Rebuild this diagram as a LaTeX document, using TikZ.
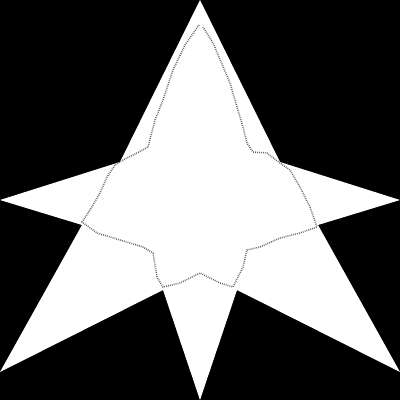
\documentclass[tikz,border=0pt]{standalone}
\usepackage{tikz}

\begin{document}
\begin{tikzpicture}[x={(0.025cm,0)}, y={(0,-0.025cm)}]

      \tikzstyle{StarFill} = [
      fill=white,
      draw=none
      ]

      \tikzstyle{SeamLine} = [
      draw=black!60,
      line width=1.1pt,
      dash pattern=on 0.6pt off 0.8pt
      ]

      % background
      \fill[black] (0,0) rectangle (400,400);
      \useasboundingbox (0,0) rectangle (400,400);

      % six pointed star
      \path [StarFill] (200,0) -- (280,162) -- (400,200) -- (318,225)
        -- (400,372) -- (237,290) -- (200,400) -- (163,290)
        -- (0,372) -- (82,225) -- (0,200) -- (120,162) -- cycle;

      % inner seam
      \draw [SeamLine] (199,25) -- (185,45) -- (173,70) -- (163,100)
        -- (155,120) -- (148,147) -- (137,153) -- (123,160)
        -- (115,165) -- (107,177) -- (100,193) -- (90,210) -- (82,222)
        -- (97,233) -- (120,240) -- (143,247) -- (153,253) -- (157,277)
        -- (163,287) -- (180,283) -- (200,273) -- (220,283) -- (233,287)
        -- (243,267) -- (247,250) -- (260,247) -- (280,238) -- (300,233)
        -- (317,227) -- (310,207) -- (300,187) -- (290,170) -- (280,163)
        -- (267,153) -- (253,152) -- (247,143) -- (243,127) -- (237,107)
        -- (230,83) -- (213,43) -- (203,27);

    \end{tikzpicture}
\end{document}
